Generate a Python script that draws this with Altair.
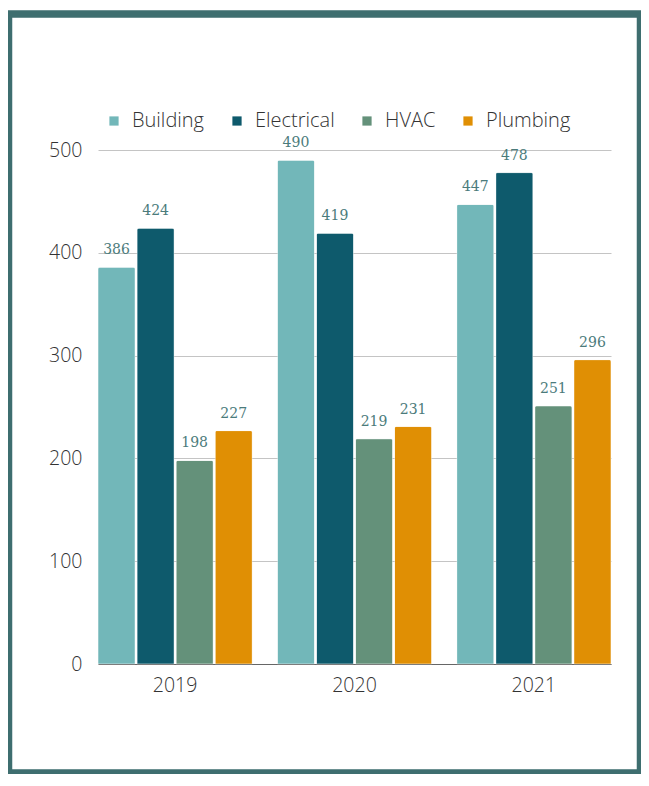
import altair as alt
import pandas as pd

years = ["2019", "2020", "2021"]
categories = ["Building", "Electrical", "HVAC", "Plumbing"]
building = [386, 490, 447]
electrical = [424, 419, 478]
hvac = [198, 219, 251]
plumbing = [227, 231, 296]
colors = ["#72b7b9", "#0e5a6c", "#64917a", "#e08f04"]

series = {"Building": building, "Electrical": electrical, "HVAC": hvac, "Plumbing": plumbing}
rows = []
for cat in categories:
    for y, v in zip(years, series[cat]):
        rows.append({"year": y, "cat": cat, "value": v})
df = pd.DataFrame(rows)

W, H = 513, 514

base = alt.Chart(df).encode(
    x=alt.X("year:N", sort=years, title=None,
            scale=alt.Scale(paddingInner=0.14, paddingOuter=0),
            axis=alt.Axis(labelAngle=0, labelFontSize=19.5, labelFont="Open Sans",
                          labelFontWeight=300,
                          labelColor="#333333", labelPadding=12, ticks=False,
                          domainColor="#666666", domainWidth=1.2, grid=False)),
    xOffset=alt.XOffset("cat:N", sort=categories,
                        scale=alt.Scale(paddingInner=0.05, paddingOuter=0)),
    y=alt.Y("value:Q", title=None,
            scale=alt.Scale(domain=[0, 500], nice=False),
            axis=alt.Axis(values=[0, 100, 200, 300, 400, 500], labelFontSize=19.5,
                          labelFont="Open Sans", labelFontWeight=300,
                          labelColor="#333333", labelPadding=16,
                          ticks=False, domain=False, gridColor="#c4c4c4", gridWidth=1)),
)

bars = base.mark_bar(cornerRadiusTopLeft=2, cornerRadiusTopRight=2,
                     stroke="white", strokeWidth=0.6, strokeOpacity=0.5).encode(
    color=alt.Color("cat:N", sort=categories,
                    scale=alt.Scale(domain=categories, range=colors),
                    legend=alt.Legend(title=None, orient="none", direction="horizontal",
                                      legendX=6, legendY=-39, columns=4,
                                      symbolType="square", symbolSize=85,
                                      symbolStrokeWidth=0, labelFontSize=20,
                                      labelFont="Open Sans", labelFontWeight=300,
                                      labelColor="#333333",
                                      columnPadding=22, labelOffset=8))
)

labels = base.mark_text(baseline="alphabetic", dy=-13, font="DejaVu Serif",
                        fontSize=14, color="#4b7b7b").encode(text="value:Q")

frame = alt.Chart(pd.DataFrame({"a": [0]})).mark_rect(
    fillOpacity=0, stroke="#3e6e6f", strokeWidth=7.5
).encode(
    x=alt.value(-89.5), x2=alt.value(542.5),
    y=alt.value(-136), y2=alt.value(623)
)

chart = alt.layer(frame, bars, labels).properties(
    width=W, height=H,
    autosize=alt.AutoSizeParams(type="none"),
    padding={"left": 90, "top": 142, "right": 30, "bottom": 110},
    background="white",
).configure_view(stroke=None)

chart.save("out.html", embed_options={"renderer": "svg", "actions": False})
